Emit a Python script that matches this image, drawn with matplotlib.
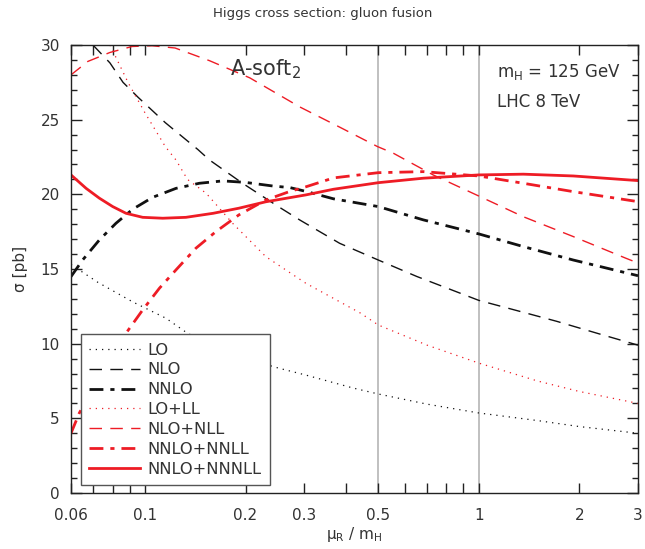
import matplotlib
matplotlib.use("Agg")
import matplotlib.pyplot as plt
from matplotlib.ticker import FixedLocator

# ---- data ----
lo_x = [0.06, 0.0723, 0.0918, 0.1156, 0.134, 0.16, 0.2, 0.2525, 0.303, 0.42, 0.5, 0.7, 1.0, 1.5, 2.0, 3.0]
lo_y = [15.3, 14.1, 12.8, 11.7, 10.7, 9.85, 9.0, 8.35, 7.9, 7.03, 6.63, 5.95, 5.36, 4.85, 4.45, 4.0]

nlo_x = [0.0698, 0.0785, 0.0859, 0.0953, 0.115, 0.144, 0.156, 0.196, 0.25, 0.291, 0.383, 0.5, 0.652, 1.0, 1.36, 1.71, 2.3, 3.0]
nlo_y = [30.0, 28.8, 27.5, 26.5, 24.8, 23.0, 22.3, 20.74, 19.2, 18.28, 16.72, 15.6, 14.5, 12.9, 12.1, 11.5, 10.65, 9.9]

nnlo_x = [0.06, 0.065, 0.073, 0.0818, 0.0918, 0.1054, 0.1238, 0.1454, 0.171, 0.2, 0.241, 0.272, 0.303, 0.367, 0.5, 0.682, 1.0, 1.36, 1.92, 3.0]
nnlo_y = [14.49, 15.6, 16.95, 18.06, 19.0, 19.8, 20.4, 20.74, 20.9, 20.8, 20.56, 20.45, 20.2, 19.7, 19.18, 18.29, 17.35, 16.5, 15.6, 14.55]

lol_x = [0.0785, 0.0889, 0.1, 0.115, 0.1238, 0.134, 0.1525, 0.183, 0.23, 0.303, 0.441, 0.5, 0.7, 1.0, 1.5, 2.0, 3.0]
lol_y = [30.0, 27.5, 25.45, 23.2, 22.3, 21.0, 20.07, 18.06, 15.83, 14.05, 12.06, 11.25, 9.9, 8.7, 7.5, 6.8, 6.0]

nlol_x = [0.06, 0.0674, 0.0785, 0.0914, 0.105, 0.123, 0.156, 0.206, 0.291, 0.383, 0.497, 0.555, 0.73, 0.984, 1.36, 1.92, 2.76, 3.0]
nlol_y = [28.0, 28.9, 29.5, 29.9, 29.95, 29.8, 28.95, 27.8, 25.85, 24.5, 23.2, 22.75, 21.3, 19.96, 18.5, 17.17, 15.72, 15.4]

nnlol_x = [0.06, 0.0635, 0.0693, 0.0748, 0.081, 0.0877, 0.0984, 0.1104, 0.1238, 0.142, 0.163, 0.191, 0.23, 0.272, 0.303, 0.367, 0.5, 0.682, 1.0, 1.36, 1.92, 3.0]
nnlol_y = [4.0, 5.34, 6.9, 8.0, 9.3, 10.7, 12.26, 13.71, 14.94, 16.39, 17.5, 18.62, 19.62, 20.2, 20.5, 21.1, 21.45, 21.52, 21.23, 20.74, 20.18, 19.51]

n3l_x = [0.06, 0.0666, 0.073, 0.08, 0.0877, 0.0984, 0.113, 0.1326, 0.16, 0.191, 0.23, 0.272, 0.303, 0.367, 0.5, 0.682, 1.0, 1.36, 1.92, 3.0]
n3l_y = [21.3, 20.4, 19.74, 19.18, 18.73, 18.46, 18.4, 18.46, 18.73, 19.07, 19.5, 19.78, 19.96, 20.34, 20.78, 21.08, 21.3, 21.35, 21.23, 20.92]

x_ticks = [0.06, 0.07, 0.08, 0.09, 0.1, 0.2, 0.3, 0.4, 0.5, 0.6, 0.7, 0.8, 0.9, 1, 2, 3]
x_tick_labels = ["0.06", "", "", "", "0.1", "0.2", "0.3", "", "0.5", "", "", "", "", "1", "2", "3"]
y_ticks = [0, 5, 10, 15, 20, 25, 30]
vlines = [0.5, 1.0]

RED = "#ee1c25"
BLK = "#111111"
TXT = "#333333"

fig = plt.figure(figsize=(6.45, 5.49), dpi=100)
ax = fig.add_axes([71 / 645, 56 / 549, 567 / 645, 448 / 549])

for v in vlines:
    ax.axvline(v, color="#bbbbbb", lw=1.3, zorder=1)

ax.plot(lo_x, lo_y, color=BLK, lw=0.9, ls=(0, (1, 4)), label="LO")
ax.plot(nlo_x, nlo_y, color=BLK, lw=1.0, ls=(0, (9, 6)), label="NLO")
ax.plot(nnlo_x, nnlo_y, color=BLK, lw=2.0, ls=(0, (5, 2.5, 1.5, 2.5)), label="NNLO")
ax.plot(lol_x, lol_y, color=RED, lw=0.9, ls=(0, (1, 4)), label="LO+LL")
ax.plot(nlol_x, nlol_y, color=RED, lw=1.0, ls=(0, (9, 6)), label="NLO+NLL")
ax.plot(nnlol_x, nnlol_y, color=RED, lw=2.0, ls=(0, (5, 2.5, 1.5, 2.5)), label="NNLO+NNLL")
ax.plot(n3l_x, n3l_y, color=RED, lw=2.0, ls="-", label="NNLO+NNNLL")

ax.set_xscale("log")
ax.set_xlim(0.06, 3)
ax.set_ylim(0, 30)
ax.xaxis.set_major_locator(FixedLocator(x_ticks))
ax.xaxis.set_minor_locator(FixedLocator([]))
ax.set_xticklabels(x_tick_labels)
ax.set_yticks(y_ticks)
ax.set_yticks(range(0, 31), minor=True)
ax.tick_params(axis="both", which="both", direction="in", top=True, right=True,
               colors="#222222", labelcolor=TXT, labelsize=11)
ax.tick_params(axis="x", which="major", length=7, width=1, pad=11)
ax.tick_params(axis="y", which="major", length=8, width=1, pad=8)
ax.tick_params(axis="y", which="minor", length=4, width=1)
for s in ax.spines.values():
    s.set_color("#222222")
    s.set_linewidth(1.0)

ax.set_xlabel("μ$_\\mathregular{R}$ / m$_\\mathregular{H}$", fontsize=11, color=TXT, labelpad=1)
ax.set_ylabel("σ [pb]", fontsize=11, color=TXT, labelpad=9)
fig.text(0.5, 1 - 14 / 549, "Higgs cross section: gluon fusion", ha="center", va="center",
         fontsize=9.5, color=TXT)

ax.text(0.280, 0.933, "A-soft$_\\mathregular{2}$", transform=ax.transAxes, fontsize=15,
        color=TXT, ha="left", va="baseline")
ax.text(0.751, 0.929, "m$_\\mathregular{H}$ = 125 GeV", transform=ax.transAxes, fontsize=12,
        color=TXT, ha="left", va="baseline")
ax.text(0.751, 0.862, "LHC 8 TeV", transform=ax.transAxes, fontsize=12,
        color=TXT, ha="left", va="baseline")

leg = ax.legend(loc="lower left", bbox_to_anchor=(0.0176, 0.018), borderaxespad=0,
                fontsize=11.7, handlelength=3.15, handletextpad=0.45, labelspacing=0.3,
                borderpad=0.5, fancybox=False, framealpha=1, edgecolor="#555555")
leg.get_frame().set_linewidth(1.0)
for t in leg.get_texts():
    t.set_color(TXT)

fig.savefig("out.png", dpi=100)
